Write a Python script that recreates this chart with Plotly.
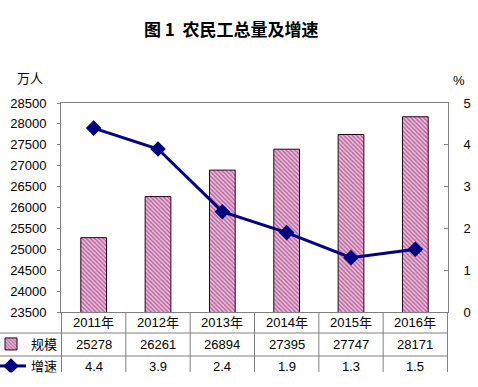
import plotly.graph_objects as go

categories = ["2011年", "2012年", "2013年", "2014年", "2015年", "2016年"]
scale_values = [25278, 26261, 26894, 27395, 27747, 28171]
growth_values = [4.4, 3.9, 2.4, 1.9, 1.3, 1.5]
growth_labels = ["4.4", "3.9", "2.4", "1.9", "1.3", "1.5"]
series_names = ["规模", "增速"]
left_ticks = list(range(23500, 28501, 500))
right_ticks = [0, 1, 2, 3, 4, 5]

W, H = 478, 387
ML, MR, MT, MB = 61, 30, 103, 75
PH = H - MT - MB
PW = W - ML - MR

def py(p):
    return (H - MB - p) / PH

def px(p):
    return (p - ML) / PW

FONT = "Liberation Sans, Arial, Noto Sans CJK SC, sans-serif"
GRID = "#808080"

fig = go.Figure()
fig.add_trace(go.Bar(
    x=categories, y=scale_values, name=series_names[0], width=0.4,
    marker=dict(color="#f0b4dc", line=dict(color="#2a0018", width=1),
                pattern=dict(shape="\\", fgcolor="#6a2050", bgcolor="#f4bce2",
                             size=3, solidity=0.5)),
    legend="legend", showlegend=True,
))
fig.add_trace(go.Scatter(
    x=categories, y=growth_values, name=series_names[1], yaxis="y2",
    mode="lines+markers",
    line=dict(color="#000080", width=3),
    marker=dict(symbol="diamond", size=12, color="#000080"),
    legend="legend2", showlegend=True,
))

shapes = []
for i in range(len(categories) + 1):
    shapes.append(dict(type="line", xref="x", yref="paper", x0=i - 0.5, x1=i - 0.5,
                       y0=0, y1=py(372), line=dict(color=GRID, width=1)))
for yy in (333, 356):
    shapes.append(dict(type="line", xref="paper", yref="paper", x0=px(0), x1=1,
                       y0=py(yy), y1=py(yy), line=dict(color=GRID, width=1)))

def txt(x, y, s, xref="x", size=13, family=FONT):
    return dict(x=x, y=y, xref=xref, yref="paper", text=s, showarrow=False,
                xanchor="center", yanchor="middle",
                font=dict(size=size, color="#000", family=family))

annotations = []
for i, c in enumerate(categories):
    annotations.append(txt(c, py(322), c))
    annotations.append(txt(c, py(344), str(scale_values[i])))
    annotations.append(txt(c, py(366), growth_labels[i]))
annotations += [
    txt(px(231), py(28), "<b>图 1  农民工总量及增速</b>", xref="paper", size=17,
        family="Noto Sans CJK SC"),
    txt(px(30), py(78), "万人", xref="paper", family="Noto Sans CJK SC"),
    txt(px(459), py(80), "%", xref="paper"),
    dict(x=0.5, y=py(372), xref="paper", yref="paper", xanchor="center", yanchor="top",
         text=" ", showarrow=False, width=W + 20, height=20, bgcolor="white",
         font=dict(size=10)),
]

fig.update_layout(
    width=W, height=H,
    margin=dict(l=ML, r=MR, t=MT, b=MB, autoexpand=False),
    paper_bgcolor="white", plot_bgcolor="white",
    font=dict(family=FONT, size=13, color="#000"),
    showlegend=True,
    xaxis=dict(showticklabels=False, ticks="", showline=True, linecolor=GRID,
               mirror=True, showgrid=False, zeroline=False),
    yaxis=dict(range=[23500, 28500], tickvals=left_ticks, ticktext=[str(v) for v in left_ticks],
               ticks="outside", ticklen=3,
               tickcolor=GRID, showline=True, linecolor=GRID, showgrid=False,
               zeroline=False, ticklabelstandoff=8, tickfont=dict(size=13, family=FONT)),
    yaxis2=dict(range=[0, 5], tickvals=right_ticks, ticktext=[str(v) for v in right_ticks],
                overlaying="y", side="right",
                ticks="inside", ticklen=4, tickcolor=GRID, showline=True, linecolor=GRID,
                showgrid=False, zeroline=False, ticklabelstandoff=12,
                tickfont=dict(size=13, family=FONT)),
    legend=dict(x=px(-9), y=py(344), xanchor="left", yanchor="middle",
                font=dict(size=13, family="Noto Sans CJK SC"), bgcolor="rgba(0,0,0,0)",
                itemwidth=30),
    legend2=dict(x=px(-9), y=py(366), xanchor="left", yanchor="middle",
                 font=dict(size=13, family="Noto Sans CJK SC"), bgcolor="rgba(0,0,0,0)",
                 itemwidth=30),
    shapes=shapes,
    annotations=annotations,
)

fig.write_html("out.html", config={"displayModeBar": False},
               post_script="document.body.style.margin='0';document.body.style.overflow='hidden';")
